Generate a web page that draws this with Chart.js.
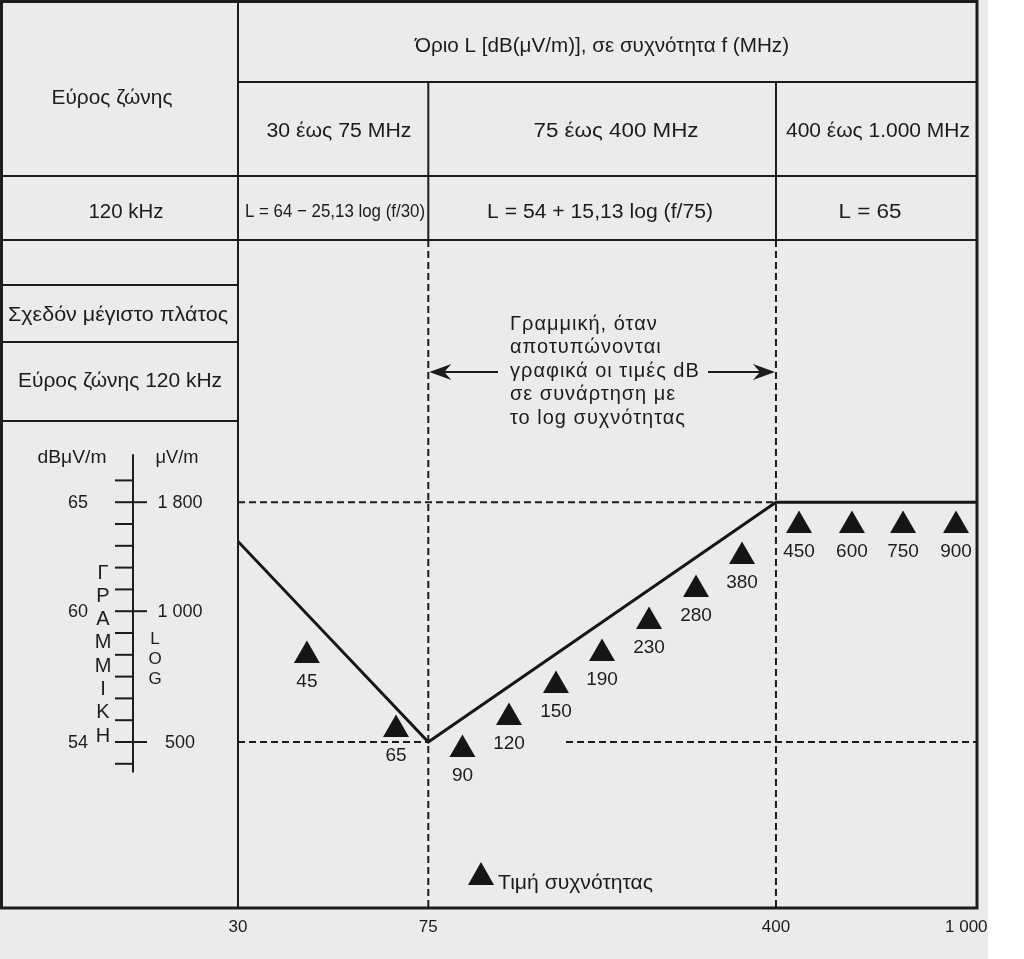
<!DOCTYPE html>
<html>
<head>
<meta charset="utf-8">
<script src="https://cdn.jsdelivr.net/npm/chart.js@4.4.1/dist/chart.umd.min.js"></script>
<style>
  html, body { margin: 0; padding: 0; background: #fff; }
  #wrap { width: 1024px; height: 959px; }
</style>
</head>
<body>
<div id="wrap"><canvas id="chart" width="1024" height="959"></canvas></div>
<script>
// limit line L (dBuV/m) vs frequency (MHz); the axis runs on to ~1053 at the frame edge
const limitFreqs = [30, 75, 400, 1053];
const limitLevels = [63.2, 54, 65, 65];

// triangles (positions) and their printed labels
const markerFreqs = [41.8, 64.2, 88.4, 110.6, 138.7, 173.1, 217.1, 272.2, 339.7, 447, 576.7, 737.6, 951.9];
const markerLevels = [57.97, 54.57, 53.66, 55.12, 56.59, 58.06, 59.53, 61.0, 62.51, 63.93, 63.93, 63.93, 63.93];
const markerLabels = ["45", "65", "90", "120", "150", "190", "230", "280", "380", "450", "600", "750", "900"];

// axis ticks
const xTicks = [30, 75, 400, 1000];
const xTickLabels = ["30", "75", "400", "1 000"];
const dbTicks = [65, 60, 54];
const dbTickLabels = ["65", "60", "54"];
const uvTickLabels = ["1 800", "1 000", "500"];
const minorDb = [53, 54, 55, 56, 57, 58, 59, 60, 61, 62, 63, 64, 65, 66];

// table texts
const bandLabels = ["30 έως 75 MHz", "75 έως 400 MHz", "400 έως 1.000 MHz"];
const formulaLabels = ["L = 64 − 25,13 log (f/30)", "L = 54 + 15,13 log (f/75)", "L = 65"];
const noteLines = ["Γραμμική, όταν", "αποτυπώνονται", "γραφικά οι τιμές dB", "σε συνάρτηση με", "το log συχνότητας"];
const linLetters = ["Γ", "Ρ", "Α", "Μ", "Μ", "Ι", "Κ", "Η"];
const logLetters = ["L", "O", "G"];

const FONT = '"Liberation Sans", Arial, Helvetica, sans-serif';
const INK = "#1c1c1c";

function put(ctx, str, x, y, size, width, align, spacing) {
  ctx.save();
  ctx.font = size + "px " + FONT;
  if (spacing) ctx.letterSpacing = spacing;
  ctx.textBaseline = "middle";
  ctx.fillStyle = INK;
  ctx.textAlign = align || "center";
  if (width) {
    const w = ctx.measureText(str).width;
    ctx.translate(x, y);
    ctx.scale(width / w, 1);
    ctx.fillText(str, 0, 0);
  } else {
    ctx.fillText(str, x, y);
  }
  ctx.restore();
}

function seg(ctx, x1, y1, x2, y2, w, dash) {
  ctx.save();
  ctx.lineWidth = w;
  ctx.strokeStyle = INK;
  ctx.setLineDash(dash || []);
  ctx.beginPath();
  ctx.moveTo(x1, y1);
  ctx.lineTo(x2, y2);
  ctx.stroke();
  ctx.restore();
}

function arrowHead(ctx, tipX, y, dir) {
  ctx.save();
  ctx.fillStyle = INK;
  ctx.beginPath();
  ctx.moveTo(tipX, y);
  ctx.lineTo(tipX - dir * 22, y - 8);
  ctx.lineTo(tipX - dir * 15, y);
  ctx.lineTo(tipX - dir * 22, y + 8);
  ctx.closePath();
  ctx.fill();
  ctx.restore();
}

const dash = [7, 4];

const bgPlugin = {
  id: "bg",
  beforeDraw(chart) {
    const ctx = chart.ctx;
    ctx.save();
    ctx.fillStyle = "#ffffff";
    ctx.fillRect(0, 0, chart.width, chart.height);
    ctx.fillStyle = "#ebebeb";
    ctx.fillRect(0, 0, 988, chart.height);
    ctx.restore();
  },
  beforeDatasetsDraw(chart) {
    const ctx = chart.ctx;
    const a = chart.chartArea;
    const x = chart.scales.x, y = chart.scales.y;
    const x75 = x.getPixelForValue(75), x400 = x.getPixelForValue(400);

    // dashed guides
    seg(ctx, x75, a.top, x75, a.bottom, 2, dash);
    seg(ctx, x400, a.top, x400, a.bottom, 2, dash);
    seg(ctx, a.left, y.getPixelForValue(65), x400, y.getPixelForValue(65), 2, dash);
    seg(ctx, a.left, y.getPixelForValue(54), x75, y.getPixelForValue(54), 2, dash);
    seg(ctx, 566, y.getPixelForValue(54), a.right, y.getPixelForValue(54), 2, dash);

    // note with arrows
    const ay = 372;
    seg(ctx, x75 + 15, ay, 498, ay, 2);
    arrowHead(ctx, x75 + 1, ay, -1);
    seg(ctx, 708, ay, x400 - 15, ay, 2);
    arrowHead(ctx, x400 - 1, ay, 1);
    noteLines.forEach((t, i) => put(ctx, t, 510, 324 + i * 23.5, 20, 0, "left", "1px"));

    // left-hand scale bar
    const bx = 133;
    put(ctx, "dBμV/m", 72, 458, 19, 69);
    put(ctx, "μV/m", 177, 458, 19, 43);
    seg(ctx, bx, y.getPixelForValue(67.2), bx, y.getPixelForValue(52.6), 2);
    minorDb.forEach(d => {
      const py = y.getPixelForValue(d);
      const major = dbTicks.includes(d);
      seg(ctx, 115, py, major ? 147 : bx, py, 2);
    });
    dbTicks.forEach((d, i) => {
      const py = y.getPixelForValue(d);
      put(ctx, dbTickLabels[i], 78, py + 1, 18);
      put(ctx, uvTickLabels[i], 180, py + 1, 18);
    });
    linLetters.forEach((t, i) => put(ctx, t, 103, 573 + i * 23.3, 20));
    logLetters.forEach((t, i) => put(ctx, t, 155, 639 + i * 20, 17));
  },
  afterDatasetsDraw(chart) {
    const ctx = chart.ctx;
    const a = chart.chartArea;
    const x = chart.scales.x;
    const x75 = x.getPixelForValue(75), x400 = x.getPixelForValue(400);
    const L = 1.5, R = a.right, T = 1.5, B = a.bottom;

    // table grid
    seg(ctx, a.left, 82, R, 82, 2);
    seg(ctx, L, 176, R, 176, 2);
    seg(ctx, L, a.top, R, a.top, 2);
    seg(ctx, a.left, T, a.left, B, 2);
    seg(ctx, x75, 82, x75, a.top, 2);
    seg(ctx, x400, 82, x400, a.top, 2);
    seg(ctx, L, 285, a.left, 285, 2);
    seg(ctx, L, 342, a.left, 342, 2);
    seg(ctx, L, 421, a.left, 421, 2);
    // outer frame
    ctx.save();
    ctx.lineWidth = 3;
    ctx.strokeStyle = INK;
    ctx.strokeRect(L, T, R - L, B - T);
    ctx.restore();

    // header texts
    put(ctx, "Εύρος ζώνης", 112, 98, 20, 121);
    put(ctx, "Όριο L [dB(μV/m)], σε συχνότητα f (MHz)", 602, 46, 20, 374);
    put(ctx, bandLabels[0], 339, 131, 20, 145);
    put(ctx, bandLabels[1], 616, 131, 20, 165);
    put(ctx, bandLabels[2], 878, 131, 20, 184);
    put(ctx, "120 kHz", 126, 212, 20, 75);
    put(ctx, formulaLabels[0], 335, 212, 19, 180);
    put(ctx, formulaLabels[1], 600, 212, 20, 226);
    put(ctx, formulaLabels[2], 870, 212, 20, 63);
    put(ctx, "Σχεδόν μέγιστο πλάτος", 118, 315, 20, 220);
    put(ctx, "Εύρος ζώνης 120 kHz", 120, 381, 20, 204);

    // triangle labels
    const meta = chart.getDatasetMeta(1);
    meta.data.forEach((pt, i) => put(ctx, markerLabels[i], pt.x, pt.y + 26, 19));

    // legend
    ctx.save();
    ctx.fillStyle = "#151515";
    ctx.beginPath();
    ctx.moveTo(481, 862);
    ctx.lineTo(494, 885);
    ctx.lineTo(468, 885);
    ctx.closePath();
    ctx.fill();
    ctx.restore();
    put(ctx, "Τιμή συχνότητας", 498, 883, 20, 155, "left");

    // frequency ticks under the frame
    xTicks.forEach((f, i) => put(ctx, xTickLabels[i], x.getPixelForValue(f), 927, 17));
  }
};

new Chart(document.getElementById("chart"), {
  type: "scatter",
  data: {
    datasets: [
      {
        type: "line",
        data: limitFreqs.map((f, i) => ({ x: f, y: limitLevels[i] })),
        borderColor: "#161616",
        borderWidth: 3,
        pointRadius: 0,
        tension: 0
      },
      {
        data: markerFreqs.map((f, i) => ({ x: f, y: markerLevels[i] })),
        pointStyle: "triangle",
        pointRadius: 15,
        backgroundColor: "#151515",
        borderWidth: 0
      }
    ]
  },
  options: {
    responsive: false,
    animation: false,
    devicePixelRatio: 1,
    layout: { padding: { left: 238, right: 47, top: 240, bottom: 51 } },
    scales: {
      x: { type: "logarithmic", min: 30, max: 1053, display: false },
      y: { type: "linear", min: 46.385, max: 77.028, display: false }
    },
    plugins: { legend: { display: false }, tooltip: { enabled: false } }
  },
  plugins: [bgPlugin]
});
</script>
</body>
</html>
